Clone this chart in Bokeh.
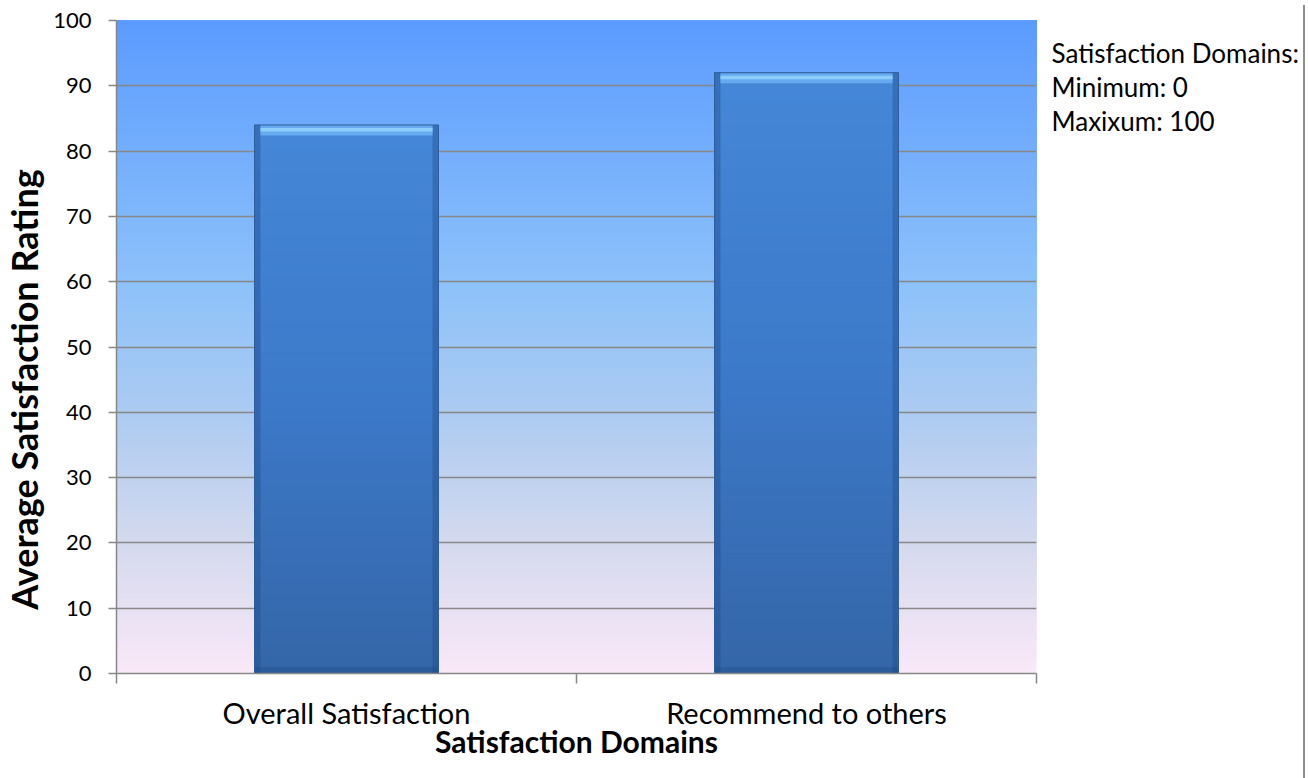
import math
from bokeh.plotting import figure
from bokeh.models import Range1d, FixedTicker, Div
from bokeh.layouts import row
from bokeh.core.properties import value
from bokeh.embed import file_html
from bokeh.resources import INLINE

# ---- data ----
categories = ["Overall Satisfaction", "Recommend to others"]
ratings = [84, 92]
y_ticks = [0, 10, 20, 30, 40, 50, 60, 70, 80, 90, 100]
x_title = "Satisfaction Domains"
y_title = "Average Satisfaction Rating"
note_lines = ["Satisfaction Domains:", "Minimum: 0", "Maxixum: 100"]

FONT = "Lato"
GRAY = "#878787"
H = 778


def lerp_stops(stops, t):
    for (t0, c0), (t1, c1) in zip(stops[:-1], stops[1:]):
        if t0 <= t <= t1:
            f = (t - t0) / (t1 - t0) if t1 > t0 else 0
            c = [round(a + (b - a) * f) for a, b in zip(c0, c1)]
            return "#%02x%02x%02x" % tuple(c)
    c = stops[-1][1]
    return "#%02x%02x%02x" % tuple(c)


def text_panel(width):
    f = figure(width=width, height=H, frame_width=width, frame_height=H, title=None,
               output_backend="svg", toolbar_location=None,
               x_range=Range1d(0, width), y_range=Range1d(H, 0),
               x_axis_location=None, y_axis_location=None,
               min_border=0, min_border_left=0, min_border_right=0,
               min_border_top=0, min_border_bottom=0)
    f.outline_line_color = None
    f.grid.visible = False
    f.background_fill_color = "white"
    f.border_fill_color = "white"
    return f


# ---- left panel: y title ----
LW = 48
left = text_panel(LW)
left.text(x=[23], y=[369], text=[y_title], angle=math.pi / 2,
          text_font=value(FONT), text_font_style="bold", text_font_size="36px",
          text_color="#000000", text_align="center", text_baseline="middle")

# ---- main chart ----
p = figure(width=1044 - LW, height=H, output_backend="svg", toolbar_location=None, title=None,
           x_range=Range1d(0, len(categories)), y_range=Range1d(y_ticks[0], y_ticks[-1]),
           frame_width=920, frame_height=653,
           min_border_left=116 - LW, min_border_right=8, min_border_top=20, min_border_bottom=105)
p.outline_line_color = None
p.background_fill_color = "white"
p.border_fill_color = "white"

# background gradient (bottom pink -> top blue), nested strips to avoid seams
bg_stops = [(0.0, (250, 232, 248)), (0.2, (212, 217, 238)), (0.4, (172, 203, 241)),
            (0.6, (140, 193, 250)), (1.0, (91, 155, 255))]
N = 130
ymin, ymax = y_ticks[0], y_ticks[-1]
bb = [ymin + (ymax - ymin) * i / N for i in range(N)]
bc = [lerp_stops(bg_stops, (i + 0.5) / N) for i in range(N)]
r_bg = p.quad(left=0, right=len(categories), bottom=bb, top=ymax, fill_color=bc, line_color=None)
r_bg.level = "image"

# bars with vertical gradient (nested strips)
bar_w = 0.4
bar_stops = [(0.0, (52, 102, 168)), (0.5, (60, 121, 201)), (1.0, (69, 135, 216))]
xs = [i + 0.5 for i in range(len(categories))]
M = 70
L, R, B, T, C = [], [], [], [], []
for x, v in zip(xs, ratings):
    for i in range(M):
        L.append(x - bar_w / 2); R.append(x + bar_w / 2)
        B.append(v * i / M); T.append(v)
        C.append(lerp_stops(bar_stops, (i + 0.5) / M))
p.quad(left=L, right=R, bottom=B, top=T, fill_color=C, line_color=None)

# bevel: side shading
side = 0.013
lefts = [x - bar_w / 2 for x in xs]
rights = [x + bar_w / 2 for x in xs]
p.quad(left=lefts, right=[l + side for l in lefts], bottom=0, top=ratings,
       fill_color="#1c4680", fill_alpha=0.35, line_color=None)
p.quad(left=[r - side for r in rights], right=rights, bottom=0, top=ratings,
       fill_color="#1c4680", fill_alpha=0.35, line_color=None)
p.quad(left=lefts, right=rights, bottom=0, top=[1.0] * len(xs),
       fill_color="#1c4680", fill_alpha=0.3, line_color=None)
# top bevel
p.quad(left=[l + side for l in lefts], right=[r - side for r in rights],
       bottom=[v - 1.6 for v in ratings], top=ratings, fill_color="#66aaf0", line_color=None)
p.quad(left=[l + side for l in lefts], right=[r - side for r in rights],
       bottom=[v - 1.0 for v in ratings], top=[v - 0.45 for v in ratings],
       fill_color="#8ccdfa", line_color=None)
# bar outline
p.quad(left=lefts, right=rights, bottom=0, top=ratings, fill_color=None,
       line_color="#2e5d9c", line_width=1)

# grid
p.xgrid.visible = False
p.ygrid.ticker = FixedTicker(ticks=y_ticks)
p.ygrid.grid_line_color = GRAY
p.ygrid.grid_line_width = 1.5

# y axis
p.yaxis.ticker = FixedTicker(ticks=y_ticks)
p.yaxis.axis_line_color = GRAY
p.yaxis.axis_line_width = 1.5
p.yaxis.major_tick_line_color = GRAY
p.yaxis.major_tick_line_width = 1.5
p.yaxis.major_tick_out = 8
p.yaxis.major_tick_in = 0
p.yaxis.minor_tick_line_color = None
p.yaxis.major_label_text_font = FONT
p.yaxis.major_label_text_font_size = "22px"
p.yaxis.major_label_text_color = "#000000"
p.yaxis.major_label_standoff = 17

# x axis: labels at centers, ticks at boundaries
p.xaxis.ticker = FixedTicker(ticks=xs, minor_ticks=list(range(len(categories) + 1)))
p.xaxis.major_label_overrides = {x: c for x, c in zip(xs, categories)}
p.xaxis.axis_line_color = GRAY
p.xaxis.axis_line_width = 1.5
p.xaxis.major_tick_line_color = None
p.xaxis.major_tick_out = 0
p.xaxis.major_tick_in = 0
p.xaxis.minor_tick_line_color = GRAY
p.xaxis.minor_tick_line_width = 1.5
p.xaxis.minor_tick_out = 10
p.xaxis.minor_tick_in = 0
p.xaxis.major_label_text_font = FONT
p.xaxis.major_label_text_font_size = "29px"
p.xaxis.major_label_text_color = "#000000"
p.xaxis.major_label_standoff = 11
p.xaxis.axis_label = x_title
p.xaxis.axis_label_text_font = FONT
p.xaxis.axis_label_text_font_style = "bold"
p.xaxis.axis_label_text_font_size = "30px"
p.xaxis.axis_label_text_color = "#000000"
p.xaxis.axis_label_standoff = -10

# ---- right panel: note ----
NW = 254
q = text_panel(NW)
q.text(x=[7] * len(note_lines), y=[32 + 34 * i for i in range(len(note_lines))], text=note_lines,
       text_font=value(FONT), text_font_size="26px", text_color="#000000",
       text_baseline="middle", text_align="left")

edge = Div(width=2, height=H, styles={"background-color": "#8e8e8e"})
layout = row(left, p, q, edge)

open("out.html", "w").write(file_html(layout, INLINE))
